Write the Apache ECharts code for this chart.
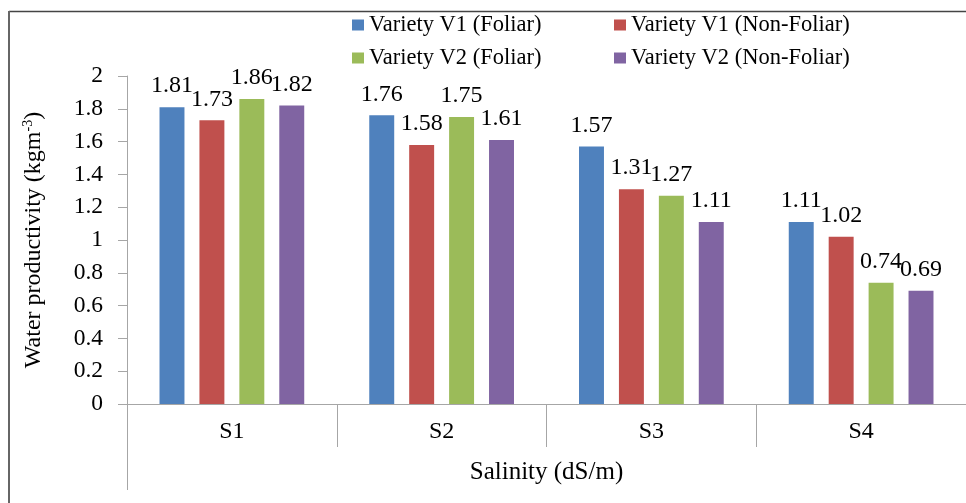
<!DOCTYPE html>
<html>
<head>
<meta charset="utf-8">
<script src="https://cdn.jsdelivr.net/npm/echarts@6/dist/echarts.min.js"></script>
<style>
  html, body { margin: 0; padding: 0; background: #fff; }
  #chart { width: 966px; height: 503px; }
</style>
</head>
<body>
<div id="chart"></div>
<script>
// Salinity levels on the category axis
const categories = ['S1', 'S2', 'S3', 'S4'];

// Water productivity (kg m^-3) for each variety / spray treatment
const v1Foliar = [1.81, 1.76, 1.57, 1.11];
const v1NonFoliar = [1.73, 1.58, 1.31, 1.02];
const v2Foliar = [1.86, 1.75, 1.27, 0.74];
const v2NonFoliar = [1.82, 1.61, 1.11, 0.69];

const seriesNames = [
  'Variety V1 (Foliar)',
  'Variety V1 (Non-Foliar)',
  'Variety V2 (Foliar)',
  'Variety V2 (Non-Foliar)'
];
const seriesData = [v1Foliar, v1NonFoliar, v2Foliar, v2NonFoliar];
const colors = ['#4F81BD', '#C0504D', '#9BBB59', '#8064A2'];

const FONT = "'Liberation Serif', 'Times New Roman', serif";
const AXIS_GRAY = '#a6a6a6';

const chart = echarts.init(document.getElementById('chart'), null, { renderer: 'canvas' });

const series = seriesNames.map((name, i) => ({
  name: name,
  type: 'bar',
  data: seriesData[i],
  itemStyle: { color: colors[i] },
  barGap: '60%',
  barCategoryGap: '31%',
  label: {
    show: true,
    position: 'top',
    distance: 9,
    color: '#000',
    fontFamily: FONT,
    fontSize: 24,
    formatter: (p) => p.value.toFixed(2)
  }
}));

const legendText = { color: '#000', fontFamily: FONT, fontSize: 22.5, lineHeight: 24 };

chart.setOption({
  animation: false,
  color: colors,
  textStyle: { fontFamily: FONT },
  grid: { left: 127, top: 76, width: 840, height: 328, containLabel: false },
  legend: [
    {
      orient: 'vertical', left: 347, top: 8, itemGap: 9,
      itemWidth: 12, itemHeight: 11, itemTextGap: 4, icon: 'rect',
      textStyle: legendText,
      data: [seriesNames[0], seriesNames[2]]
    },
    {
      orient: 'vertical', left: 609, top: 8, itemGap: 9,
      itemWidth: 12, itemHeight: 11, itemTextGap: 4, icon: 'rect',
      textStyle: legendText,
      data: [seriesNames[1], seriesNames[3]]
    }
  ],
  xAxis: {
    type: 'category',
    data: categories,
    name: 'Salinity (dS/m)',
    nameLocation: 'middle',
    nameGap: 56,
    nameTextStyle: { color: '#000', fontFamily: FONT, fontSize: 25 },
    axisLine: { lineStyle: { color: AXIS_GRAY, width: 1 } },
    axisTick: { show: true, alignWithLabel: false, length: 43, lineStyle: { color: AXIS_GRAY } },
    axisLabel: { color: '#000', fontFamily: FONT, fontSize: 24, margin: 16 }
  },
  yAxis: {
    type: 'value',
    min: 0,
    max: 2,
    interval: 0.2,
    name: '{a|Water productivity (kgm}{s|-3}{a|)}',
    nameLocation: 'middle',
    nameRotate: 90,
    nameGap: 80,
    nameTextStyle: {
      color: '#000',
      fontFamily: FONT,
      fontSize: 24,
      rich: {
        a: { color: '#000', fontFamily: FONT, fontSize: 24, lineHeight: 26 },
        s: { color: '#000', fontFamily: FONT, fontSize: 14, verticalAlign: 'top', lineHeight: 26, padding: [0, 0, 9, 0] }
      }
    },
    axisLine: { show: true, lineStyle: { color: AXIS_GRAY, width: 1 } },
    axisTick: { show: true, inside: false, length: 9, lineStyle: { color: AXIS_GRAY } },
    splitLine: { show: false },
    axisLabel: { color: '#000', fontFamily: FONT, fontSize: 23.5, margin: 24 }
  },
  graphic: [
    // outer frame (top and left edges)
    { type: 'line', shape: { x1: 9, y1: 11.5, x2: 966, y2: 11.5 }, style: { stroke: '#444', lineWidth: 1.5 }, silent: true },
    { type: 'line', shape: { x1: 9, y1: 11, x2: 9, y2: 503 }, style: { stroke: '#666', lineWidth: 2 }, silent: true },
    // extension of the leftmost category boundary
    { type: 'line', shape: { x1: 127.5, y1: 404, x2: 127.5, y2: 490 }, style: { stroke: AXIS_GRAY, lineWidth: 1 }, silent: true }
  ],
  series: series
});
</script>
</body>
</html>
